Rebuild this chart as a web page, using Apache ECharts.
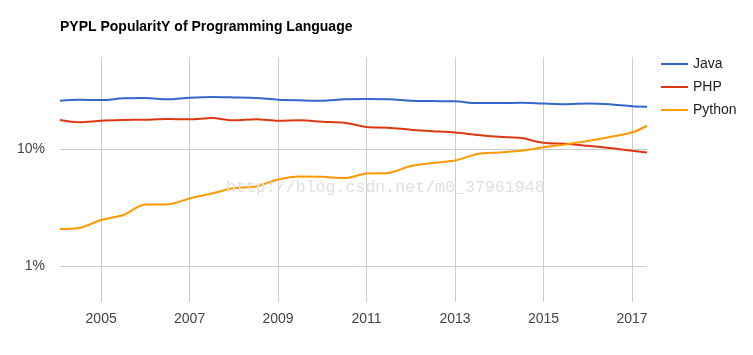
<!DOCTYPE html>
<html><head><meta charset="utf-8">
<script src="https://cdn.jsdelivr.net/npm/echarts@6/dist/echarts.min.js"></script>
<style>html,body{margin:0;padding:0;background:#fff}#c{width:753px;height:355px}</style>
</head><body><div id="c"></div>
<script>
const chartTitle = 'PYPL PopularitY of Programming Language';
const seriesNames = ['Java', 'PHP', 'Python'];
const years = [2004.07, 2004.5, 2005, 2005.5, 2006, 2006.5, 2007, 2007.5, 2008, 2008.5,
  2009, 2009.5, 2010, 2010.5, 2011, 2011.5, 2012, 2012.5, 2013, 2013.5,
  2014, 2014.5, 2015, 2015.5, 2016, 2016.5, 2017, 2017.34];
const java = [25.8, 26.3, 26.1, 27.0, 27.2, 26.5, 27.3, 27.7, 27.5, 27.2,
  26.3, 26.0, 25.8, 26.5, 26.6, 26.5, 25.8, 25.6, 25.5, 24.6,
  24.6, 24.8, 24.4, 24.1, 24.4, 24.0, 23.1, 22.9];
const php = [17.65, 16.9, 17.4, 17.65, 17.8, 18.0, 17.9, 18.4, 17.55, 17.9,
  17.4, 17.55, 17.1, 16.75, 15.4, 15.2, 14.6, 14.2, 13.8, 13.2,
  12.7, 12.4, 11.3, 11.1, 10.65, 10.2, 9.67, 9.37];
const python = [2.09, 2.13, 2.49, 2.75, 3.37, 3.38, 3.80, 4.18, 4.66, 4.80,
  5.50, 5.83, 5.81, 5.66, 6.19, 6.27, 7.17, 7.60, 7.98, 9.07,
  9.37, 9.67, 10.34, 10.96, 11.70, 12.65, 13.82, 15.79];
const xTicks = [2005, 2007, 2009, 2011, 2013, 2015, 2017];
const yTicks = [1, 10];
const watermark = 'http://blog.csdn.net/m0_37961948';

const colors = ['#3366cc', '#dc3912', '#ff9900'];
const values = [java, php, python];
const FONT = '"Liberation Sans", Arial, sans-serif';
const LINE_ICON = 'path://M0,0 M27,14 M0,6 L27,6 L27,8 L0,8 Z';

const chart = echarts.init(document.getElementById('c'));
chart.setOption({
  animation: false,
  backgroundColor: '#fff',
  color: colors,
  textStyle: { fontFamily: FONT },
  title: {
    text: chartTitle, left: 60, top: 20, padding: 0,
    textStyle: { fontSize: 14, fontWeight: 'bold', color: '#000', fontFamily: FONT }
  },
  legend: {
    orient: 'vertical', left: 661, top: 57, padding: 0,
    itemWidth: 27, itemHeight: 14, itemGap: 9,
    icon: LINE_ICON,
    textStyle: { fontSize: 14, color: '#222', fontFamily: FONT },
    data: seriesNames
  },
  grid: { left: 60, right: 106, top: 57, bottom: 53, containLabel: false },
  xAxis: {
    type: 'value', min: 2004.07, max: 2017.34,
    axisLine: { show: false },
    axisTick: { show: false, customValues: xTicks },
    axisLabel: { customValues: xTicks, formatter: v => String(v), fontSize: 14, color: '#444', margin: 10, fontFamily: FONT },
    splitLine: { show: true, lineStyle: { color: '#cccccc', width: 1 } }
  },
  yAxis: {
    type: 'log', logBase: 10, min: 0.5, max: 60.7,
    axisLine: { show: false },
    axisTick: { show: false },
    axisLabel: {
      formatter: v => (yTicks.indexOf(Math.round(v * 1000) / 1000) >= 0 ? v + '%' : ''),
      showMinLabel: false, showMaxLabel: false,
      fontSize: 14, color: '#444', margin: 15, fontFamily: FONT
    },
    splitLine: { show: true, showMinLine: false, showMaxLine: false, lineStyle: { color: '#cccccc', width: 1 } }
  },
  graphic: [{
    type: 'text', left: 226, top: 179, z: 100,
    style: { text: watermark, font: '16.6px "Liberation Mono", monospace', fill: '#e0e0e0' }
  }],
  series: seriesNames.map((name, k) => ({
    name: name, type: 'line', symbol: 'none', smooth: 0.3,
    lineStyle: { width: 2, color: colors[k] },
    itemStyle: { color: colors[k] },
    data: years.map((y, i) => [y, values[k][i]])
  }))
});
</script>
</body></html>
